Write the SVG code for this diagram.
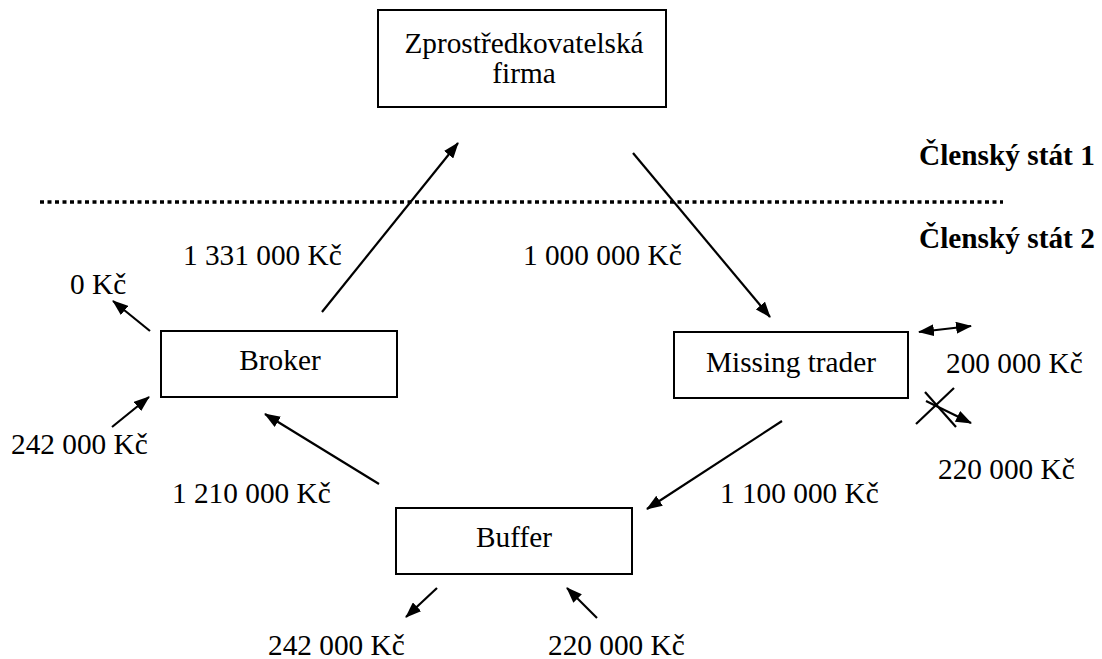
<svg xmlns="http://www.w3.org/2000/svg" width="1102" height="659" viewBox="0 0 1102 659">
<style>
.box{fill:#fff;stroke:#000;stroke-width:2}
.t{font-family:"Liberation Serif","Times New Roman",serif;font-size:29.3px;fill:#000}
.c{text-anchor:middle}
.b{font-weight:bold}
.ln{stroke:#000;stroke-width:2.2;fill:none}
.arr{stroke:#000;stroke-width:2.2;fill:none;marker-end:url(#ah)}
</style>
<defs>
<marker id="ah" viewBox="0 0 16 12" refX="15" refY="6" markerWidth="16" markerHeight="12" markerUnits="userSpaceOnUse" orient="auto-start-reverse">
<path d="M0,0 L16,6 L0,12 z" fill="#000"/>
</marker>
</defs>
<rect width="1102" height="659" fill="#fff"/>
<line x1="40" y1="202" x2="1003" y2="202" stroke="#000" stroke-width="3.5" stroke-dasharray="4 3.5"/>
<text class="t b" x="919" y="165">Členský stát 1</text>
<text class="t b" x="919" y="248">Členský stát 2</text>
<g id="connectors">
<path class="arr" d="M322,312 L458,143"/>
<path class="arr" d="M633,153 L770,317"/>
<path class="arr" d="M782,421 L647,509"/>
<path class="arr" d="M379,484 L265,414"/>
<path class="arr" d="M150,331 L113,301"/>
<path class="arr" d="M112,427 L149,397"/>
<path class="arr" d="M437,588 L406,617"/>
<path class="arr" d="M597,618 L567,588"/>
<path class="arr" d="M919,332 L971,326" marker-start="url(#ah)"/>
<path class="arr" d="M926,401 L971,423"/>
<path class="ln" d="M916,424 L954,388"/>
<path class="ln" d="M925,392 L956,427"/>
</g>
<g id="firma">
<rect class="box" x="378" y="10" width="288" height="97"/>
<text class="t c" x="524" y="53">Zprostředkovatelská</text>
<text class="t c" x="524" y="83">firma</text>
</g>
<g id="broker">
<rect class="box" x="161" y="331" width="236" height="66"/>
<text class="t c" x="280" y="370">Broker</text>
</g>
<g id="missing">
<rect class="box" x="674" y="332" width="234" height="66"/>
<text class="t c" x="791" y="372">Missing trader</text>
</g>
<g id="buffer">
<rect class="box" x="396" y="508" width="236" height="66"/>
<text class="t c" x="514" y="547">Buffer</text>
</g>
<g id="labels">
<text class="t" x="183" y="265">1 331 000 Kč</text>
<text class="t" x="523" y="265">1 000 000 Kč</text>
<text class="t" x="70" y="294">0 Kč</text>
<text class="t" x="11" y="454">242 000 Kč</text>
<text class="t" x="946" y="373">200 000 Kč</text>
<text class="t" x="938" y="479">220 000 Kč</text>
<text class="t" x="172" y="503">1 210 000 Kč</text>
<text class="t" x="720" y="503">1 100 000 Kč</text>
<text class="t" x="268" y="655">242 000 Kč</text>
<text class="t" x="548" y="655">220 000 Kč</text>
</g>
</svg>
